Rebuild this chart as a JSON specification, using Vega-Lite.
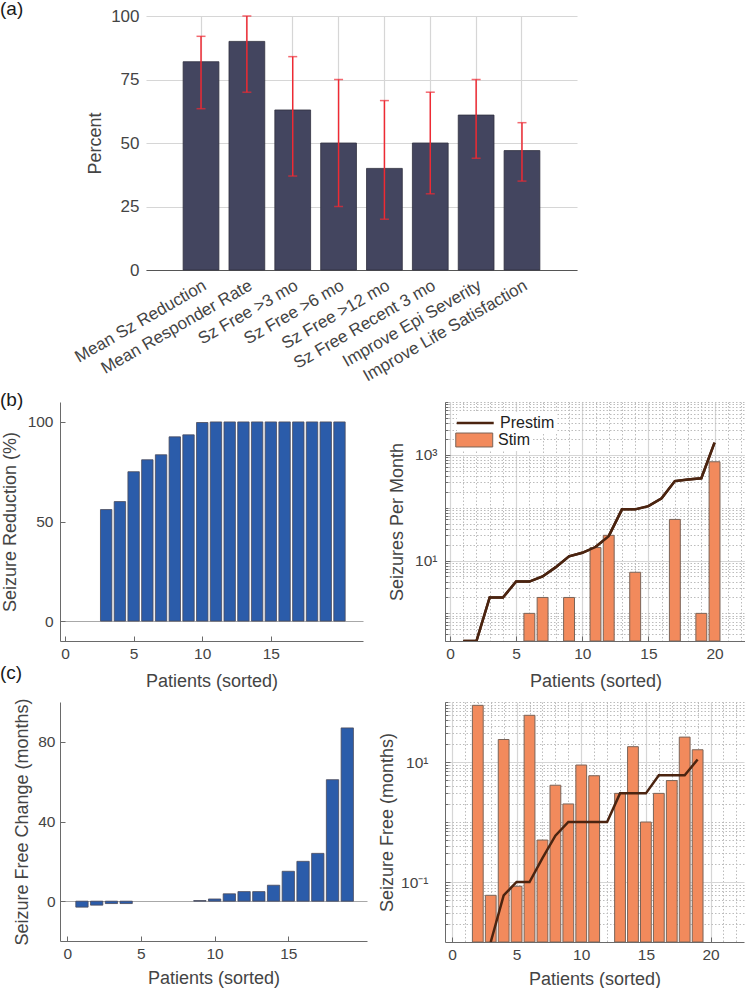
{
  "$schema": "https://vega.github.io/schema/vega-lite/v6.json",
  "background": "white",
  "padding": 0,
  "spacing": 7,
  "center": false,
  "resolve": {"scale": {"color": "independent", "fill": "independent", "stroke": "independent"}, "legend": {"color": "independent", "fill": "independent", "stroke": "independent"}},
  "config": {
    "view": {"stroke": null},
    "font": "Liberation Sans",
    "axis": {
      "labelFont": "Liberation Sans", "titleFont": "Liberation Sans",
      "labelColor": "#444444", "titleColor": "#444444", "titleFontWeight": "normal",
      "labelFontSize": 15.5, "titleFontSize": 18,
      "domainColor": "#6a6a6a", "tickColor": "#6a6a6a", "gridColor": "#d6d6d6", "gridWidth": 1.2,
      "labelPadding": 6
    },
    "legend": {"labelFont": "Liberation Sans", "labelFontSize": 16, "labelColor": "#222222"},
    "title": {"font": "Liberation Sans", "fontSize": 19, "fontWeight": "normal", "color": "#1a1a1a"}
  },
  "vconcat": [
    {
      "bounds": "flush", "spacing": 0,
      "hconcat": [
        {"width": 86, "height": 1, "data": {"values": []}, "mark": "point", "encoding": {}},
        {
          "width": 431, "height": 254,
          "title": {"text": "(a)", "anchor": "start", "frame": "group", "dx": -146, "dy": 16},
          "data": {"values": [
            {"measure": "Mean Sz Reduction", "pct": 82, "lo": 63.5, "hi": 92},
            {"measure": "Mean Responder Rate", "pct": 90, "lo": 70, "hi": 100},
            {"measure": "Sz Free >3 mo", "pct": 63, "lo": 37, "hi": 84},
            {"measure": "Sz Free >6 mo", "pct": 50, "lo": 25, "hi": 75},
            {"measure": "Sz Free >12 mo", "pct": 40, "lo": 20, "hi": 66.7},
            {"measure": "Sz Free Recent 3 mo", "pct": 50, "lo": 30, "hi": 70},
            {"measure": "Improve Epi Severity", "pct": 61, "lo": 44, "hi": 75},
            {"measure": "Improve Life Satisfaction", "pct": 47, "lo": 35, "hi": 58}
          ]},
          "encoding": {
            "x": {"field": "measure", "type": "nominal", "sort": null,
              "scale": {"paddingInner": 0.22, "paddingOuter": 0.81},
              "axis": {"title": null, "labelAngle": -30, "labelAlign": "right", "labelBaseline": "top",
                "labelFontSize": 17, "labelPadding": 12, "labelDx": 5, "labelLimit": 400,
                "grid": true, "bandPosition": 0.5, "ticks": true, "tickSize": -5, "domainColor": "#555555"}}
          },
          "layer": [
            {"mark": {"type": "bar", "color": "#43455f", "stroke": "#30303f", "strokeWidth": 0.8},
             "encoding": {"y": {"field": "pct", "type": "quantitative", "title": "Percent",
               "scale": {"domain": [0, 100], "nice": false},
               "axis": {"values": [0, 25, 50, 75, 100], "grid": true, "domain": false, "ticks": false,
                 "labelFontSize": 17, "labelPadding": 7, "titlePadding": 6}}}},
            {"mark": {"type": "rule", "color": "#ee2a33", "strokeWidth": 1.5},
             "encoding": {"y": {"field": "lo", "type": "quantitative", "title": "Percent"}, "y2": {"field": "hi"}}},
            {"mark": {"type": "tick", "color": "#ee2a33", "thickness": 1.5, "size": 9, "orient": "horizontal"},
             "encoding": {"y": {"field": "lo", "type": "quantitative", "title": "Percent"}}},
            {"mark": {"type": "tick", "color": "#ee2a33", "thickness": 1.5, "size": 9, "orient": "horizontal"},
             "encoding": {"y": {"field": "hi", "type": "quantitative", "title": "Percent"}}}
          ]
        }
      ]
    },
    {
      "columns": 2,
      "bounds": "flush",
      "center": false,
      "spacing": {"row": 61, "column": 78},
      "resolve": {"scale": {"color": "independent", "fill": "independent", "stroke": "independent"}, "legend": {"color": "independent", "fill": "independent", "stroke": "independent"}},
      "concat": [
        {
          "width": 303, "height": 239,
          "title": {"text": "(b)", "anchor": "start", "frame": "group", "dx": -60, "dy": 12},
          "data": {"values": [
            {"patient": 1, "reduction": null}, {"patient": 2, "reduction": null},
            {"patient": 3, "reduction": 56}, {"patient": 4, "reduction": 60},
            {"patient": 5, "reduction": 75}, {"patient": 6, "reduction": 81},
            {"patient": 7, "reduction": 83.5}, {"patient": 8, "reduction": 92.5},
            {"patient": 9, "reduction": 93.5}, {"patient": 10, "reduction": 99.7},
            {"patient": 11, "reduction": 100}, {"patient": 12, "reduction": 100},
            {"patient": 13, "reduction": 100}, {"patient": 14, "reduction": 100},
            {"patient": 15, "reduction": 100}, {"patient": 16, "reduction": 100},
            {"patient": 17, "reduction": 100}, {"patient": 18, "reduction": 100},
            {"patient": 19, "reduction": 100}, {"patient": 20, "reduction": 100}
          ]},
          "mark": {"type": "bar", "width": 11.4, "color": "#2b5caa", "stroke": "#4a4a5a", "strokeWidth": 0.8},
          "encoding": {
            "x": {"field": "patient", "type": "quantitative",
              "scale": {"domain": [0, 21.35], "nice": false, "zero": false},
              "axis": {"values": [0, 5, 10, 15], "title": "Patients (sorted)", "grid": false,
                "tickSize": -5, "labelPadding": 10.5, "titlePadding": 10.5}},
            "y": {"field": "reduction", "type": "quantitative",
              "scale": {"domain": [-10, 110], "nice": false},
              "axis": {"values": [0, 50, 100], "title": "Seizure Reduction (%)", "grid": true,
                "gridColor": {"condition": {"test": "datum.value === 0", "value": "#a8a8a8"}, "value": "transparent"},
                "tickSize": -5, "labelPadding": 12, "titlePadding": 8}}
          }
        },
        {
          "width": 301, "height": 239,
          "data": {"values": [
            {"patient": 1, "prestim": 0.3, "stim": null},
            {"patient": 2, "prestim": 0.3, "stim": null},
            {"patient": 3, "prestim": 2, "stim": null},
            {"patient": 4, "prestim": 2, "stim": null},
            {"patient": 5, "prestim": 4, "stim": null},
            {"patient": 6, "prestim": 4, "stim": 1},
            {"patient": 7, "prestim": 5, "stim": 2},
            {"patient": 8, "prestim": 7.5, "stim": null},
            {"patient": 9, "prestim": 12, "stim": 2},
            {"patient": 10, "prestim": 14, "stim": null},
            {"patient": 11, "prestim": 18, "stim": 17.6},
            {"patient": 12, "prestim": 29, "stim": 30},
            {"patient": 13, "prestim": 93, "stim": null},
            {"patient": 14, "prestim": 93, "stim": 6},
            {"patient": 15, "prestim": 107, "stim": null},
            {"patient": 16, "prestim": 150, "stim": null},
            {"patient": 17, "prestim": 319, "stim": 60},
            {"patient": 18, "prestim": 340, "stim": null},
            {"patient": 19, "prestim": 360, "stim": 1},
            {"patient": 20, "prestim": 1700, "stim": 740}
          ]},
          "resolve": {"axis": {"x": "independent", "y": "independent"}},
          "layer": [
            {
              "mark": {"type": "line", "strokeWidth": 2.5, "clip": true},
              "encoding": {
                "x": {"field": "patient", "type": "quantitative",
                  "scale": {"domain": [0, 22], "nice": false, "zero": false},
                  "axis": {"orient": "bottom", "values": [0, 5, 10, 15, 20], "title": "Patients (sorted)", "grid": true,
                    "tickSize": -5, "labelPadding": 10.5, "titlePadding": 10.5}},
                "y": {"field": "prestim", "type": "quantitative",
                  "scale": {"type": "log", "domain": [0.3, 10000], "nice": false},
                  "axis": {"orient": "left", "values": [10, 1000], "title": "Seizures Per Month", "grid": true,
                    "labelExpr": "datum.value == 1000 ? '10³' : '10¹'", "tickSize": -5, "labelPadding": 13, "titlePadding": 8}},
                "color": {"datum": "Prestim", "type": "nominal",
                  "scale": {"domain": ["Prestim"], "range": ["#4b2410"]},
                  "legend": {"orient": "none", "legendX": 12, "legendY": 10, "padding": 2, "fillColor": "white", "title": null,
                    "symbolType": "M-1.5,0H3.43", "symbolSize": 225, "symbolStrokeWidth": 2.5, "labelOffset": 23}}
              }
            },
            {
              "mark": {"type": "bar", "width": 10.9, "stroke": "#7a6458", "strokeWidth": 1, "clip": true},
              "encoding": {
                "x": {"field": "patient", "type": "quantitative",
                  "axis": {"orient": "bottom", "values": [1, 2, 3, 4, 6, 7, 8, 9, 11, 12, 13, 14, 16, 17, 18, 19, 21, 22],
                    "title": null, "labels": false, "domain": false, "ticks": false,
                    "grid": true, "gridDash": [1.5, 2], "gridColor": "#bcbcbc", "gridWidth": 1}},
                "y": {"field": "stim", "type": "quantitative",
                  "axis": {"orient": "left", "values": [0.3, 0.4, 0.5, 0.6, 0.7, 0.8, 0.9, 1, 2, 3, 4, 5, 6, 7, 8, 9, 20, 30, 40, 50, 60, 70, 80, 90, 100, 200, 300, 400, 500, 600, 700, 800, 900, 2000, 3000, 4000, 5000, 6000, 7000, 8000, 9000, 10000],
                    "title": null, "labels": false, "domain": false, "ticks": true, "tickSize": -3,
                    "grid": true, "gridDash": [1.5, 2], "gridColor": "#bcbcbc", "gridWidth": 1}},
                "y2": {"datum": 0.3},
                "fill": {"datum": "Stim", "type": "nominal",
                  "scale": {"domain": ["Stim"], "range": ["#f28a5c"]},
                  "legend": {"orient": "none", "legendX": 12, "legendY": 28, "padding": 2, "fillColor": "white", "title": null,
                    "symbolType": "M-1.5,-0.93H3.43V0.93H-1.5Z", "symbolSize": 225, "symbolStrokeColor": "#7a6458",
                    "symbolStrokeWidth": 1, "labelOffset": 23}}
              }
            },
            {
              "mark": {"type": "line", "strokeWidth": 2.5, "color": "#4b2410", "clip": true},
              "encoding": {
                "x": {"field": "patient", "type": "quantitative", "axis": null},
                "y": {"field": "prestim", "type": "quantitative", "axis": null}
              }
            }
          ]
        },
        {
          "width": 307, "height": 239,
          "title": {"text": "(c)", "anchor": "start", "frame": "group", "dx": -60, "dy": -11},
          "data": {"values": [
            {"patient": 1, "change": -3}, {"patient": 2, "change": -2},
            {"patient": 3, "change": -1.2}, {"patient": 4, "change": -1.2},
            {"patient": 5, "change": null}, {"patient": 6, "change": null},
            {"patient": 7, "change": null}, {"patient": 8, "change": null},
            {"patient": 9, "change": 0.3}, {"patient": 10, "change": 1.1},
            {"patient": 11, "change": 3.7}, {"patient": 12, "change": 4.8},
            {"patient": 13, "change": 4.8}, {"patient": 14, "change": 8},
            {"patient": 15, "change": 15}, {"patient": 16, "change": 20},
            {"patient": 17, "change": 24}, {"patient": 18, "change": 61},
            {"patient": 19, "change": 87}
          ]},
          "mark": {"type": "bar", "width": 12.3, "color": "#2b5caa", "stroke": "#4a4a5a", "strokeWidth": 0.8},
          "encoding": {
            "x": {"field": "patient", "type": "quantitative",
              "scale": {"domain": [-0.15, 20], "nice": false, "zero": false},
              "axis": {"values": [0, 5, 10, 15], "title": "Patients (sorted)", "grid": false,
                "tickSize": -5, "labelPadding": 10.5, "titlePadding": 7}},
            "y": {"field": "change", "type": "quantitative",
              "scale": {"domain": [-20, 100], "nice": false},
              "axis": {"values": [0, 40, 80], "title": "Seizure Free Change (months)", "grid": true,
                "gridColor": {"condition": {"test": "datum.value === 0", "value": "#a8a8a8"}, "value": "transparent"},
                "tickSize": -5, "labelPadding": 10, "titlePadding": 6}}
          }
        },
        {
          "width": 299, "height": 240,
          "data": {"values": [
            {"patient": 1, "before": null, "after": null},
            {"patient": 2, "before": null, "after": 88},
            {"patient": 3, "before": 0.01, "after": 0.06},
            {"patient": 4, "before": 0.06, "after": 23.7},
            {"patient": 5, "before": 0.1, "after": 0.085},
            {"patient": 6, "before": 0.1, "after": 60},
            {"patient": 7, "before": 0.25, "after": 0.5},
            {"patient": 8, "before": 0.59, "after": 4.1},
            {"patient": 9, "before": 1, "after": 2},
            {"patient": 10, "before": 1, "after": 8.9},
            {"patient": 11, "before": 1, "after": 5.9},
            {"patient": 12, "before": 1, "after": null},
            {"patient": 13, "before": 3, "after": 3},
            {"patient": 14, "before": 3, "after": 18},
            {"patient": 15, "before": 3, "after": 1},
            {"patient": 16, "before": 6, "after": 3},
            {"patient": 17, "before": 6, "after": 4.9},
            {"patient": 18, "before": 6, "after": 26},
            {"patient": 19, "before": 11, "after": 16}
          ]},
          "resolve": {"axis": {"x": "independent", "y": "independent"}},
          "layer": [
            {
              "mark": {"type": "bar", "width": 10.8, "color": "#f28a5c", "stroke": "#7a6458", "strokeWidth": 1, "clip": true},
              "encoding": {
                "x": {"field": "patient", "type": "quantitative",
                  "scale": {"domain": [-0.15, 22.2], "nice": false, "zero": false},
                  "axis": {"orient": "bottom", "values": [0, 5, 10, 15, 20], "title": "Patients (sorted)", "grid": true,
                    "tickSize": -5, "labelPadding": 10.5, "titlePadding": 7}},
                "y": {"field": "after", "type": "quantitative",
                  "scale": {"type": "log", "domain": [0.01, 100], "nice": false},
                  "axis": {"orient": "left", "values": [0.1, 10], "title": "Seizure Free (months)", "grid": true,
                    "labelExpr": "datum.value >= 1 ? '10¹' : '10⁻¹'", "tickSize": -5, "labelPadding": 22, "titlePadding": 4}},
                "y2": {"datum": 0.01}
              }
            },
            {
              "mark": {"type": "line", "strokeWidth": 2.5, "color": "#4b2410", "clip": true},
              "encoding": {
                "x": {"field": "patient", "type": "quantitative",
                  "axis": {"orient": "bottom", "values": [1, 2, 3, 4, 6, 7, 8, 9, 11, 12, 13, 14, 16, 17, 18, 19, 21, 22],
                    "title": null, "labels": false, "domain": false, "ticks": false,
                    "grid": true, "gridDash": [1.5, 2], "gridColor": "#bcbcbc", "gridWidth": 1}},
                "y": {"field": "before", "type": "quantitative",
                  "axis": {"orient": "left", "values": [0.02, 0.03, 0.04, 0.05, 0.06, 0.07, 0.08, 0.09, 0.2, 0.3, 0.4, 0.5, 0.6, 0.7, 0.8, 0.9, 1, 2, 3, 4, 5, 6, 7, 8, 9, 20, 30, 40, 50, 60, 70, 80, 90, 100],
                    "title": null, "labels": false, "domain": false, "ticks": true, "tickSize": -3,
                    "grid": true, "gridDash": [1.5, 2], "gridColor": "#bcbcbc", "gridWidth": 1}}
              }
            }
          ]
        }
      ]
    }
  ]
}
